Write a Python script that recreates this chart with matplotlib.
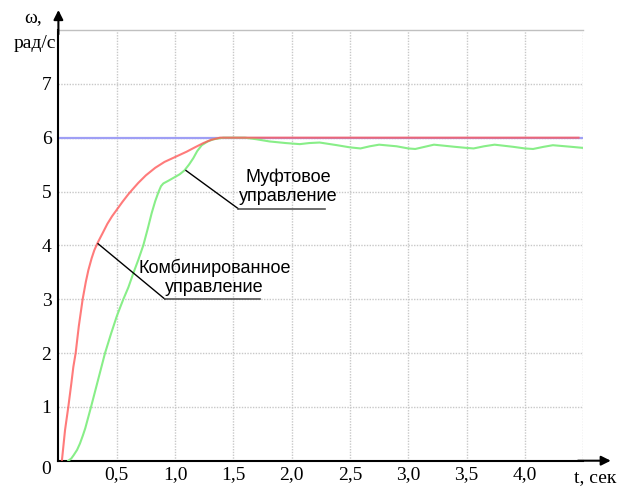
import matplotlib
matplotlib.use("Agg")
import matplotlib.pyplot as plt

# ---- data ----
red_t = [0.03, 0.057, 0.085, 0.11, 0.128, 0.148, 0.175, 0.208, 0.235, 0.257, 0.285, 0.308,
         0.337, 0.38, 0.42, 0.46, 0.5, 0.55, 0.6, 0.64, 0.685, 0.75, 0.83, 0.91, 1.0,
         1.1, 1.17, 1.243, 1.31, 1.386, 1.5, 4.46]
red_w = [0.0, 0.57, 1.0, 1.42, 1.74, 2.0, 2.5, 3.0, 3.32, 3.54, 3.76, 3.91,
         4.05, 4.23, 4.4, 4.54, 4.66, 4.81, 4.95, 5.05, 5.16, 5.30, 5.44, 5.55, 5.64,
         5.74, 5.82, 5.90, 5.96, 6.0, 6.0, 6.0]

green_t = [0.085, 0.11, 0.13, 0.16, 0.185, 0.21, 0.23, 0.255, 0.28, 0.31, 0.34, 0.37,
           0.40, 0.45, 0.5, 0.53, 0.557, 0.6, 0.642, 0.685, 0.728, 0.765, 0.80, 0.83,
           0.86, 0.88, 0.9, 0.943, 1.0, 1.04, 1.08, 1.12, 1.157, 1.19, 1.229, 1.28,
           1.33, 1.414, 1.6, 1.7, 1.81, 1.95, 2.07, 2.15, 2.24, 2.39, 2.5, 2.59, 2.67,
           2.75, 2.9, 3.0, 3.06, 3.14, 3.22, 3.4, 3.5, 3.56, 3.65, 3.74, 3.9, 4.0,
           4.07, 4.16, 4.24, 4.4, 4.5]
green_w = [0.0, 0.04, 0.1, 0.2, 0.32, 0.47, 0.6, 0.8, 1.0, 1.25, 1.5, 1.75,
           2.0, 2.35, 2.68, 2.85, 3.0, 3.22, 3.48, 3.73, 4.0, 4.3, 4.6, 4.82,
           5.0, 5.1, 5.15, 5.2, 5.27, 5.32, 5.39, 5.5, 5.62, 5.75, 5.86, 5.93,
           5.97, 6.0, 6.0, 5.97, 5.93, 5.9, 5.88, 5.9, 5.91, 5.86, 5.82, 5.80, 5.84,
           5.87, 5.84, 5.80, 5.79, 5.83, 5.87, 5.83, 5.81, 5.80, 5.84, 5.87, 5.83, 5.80,
           5.79, 5.83, 5.86, 5.83, 5.81]

ref_t = [0.0, 4.5]
ref_w = [6.0, 6.0]

x_ticks = [0.5, 1.0, 1.5, 2.0, 2.5, 3.0, 3.5, 4.0, 4.5]
x_labels = ["0,5", "1,0", "1,5", "2,0", "2,5", "3,0", "3,5", "4,0", ""]
y_ticks = [1, 2, 3, 4, 5, 6, 7]
y_labels = ["1", "2", "3", "4", "5", "6", "7"]

label_comb = "Комбинированное\nуправление"
label_muft = "Муфтовое\nуправление"

W, H = 618, 486
fig = plt.figure(figsize=(W / 100, H / 100), dpi=100)
ax = fig.add_axes([58.4 / W, 1 - 460.7 / H, (583.2 - 58.4) / W, (460.7 - 30) / H])
ax.set_xlim(0, 4.5)
ax.set_ylim(0, 8)

serif = "Liberation Serif"
sans = "Liberation Sans"

ax.plot(ref_t, ref_w, color="#9f9ff5", lw=1.6, zorder=2)
ax.plot(green_t, green_w, color="#88ee88", lw=1.5, zorder=3)
ax.plot(red_t, red_w, color="#ff5a5a", lw=1.5, alpha=0.8, zorder=4)

ax.set_xticks(x_ticks)
ax.set_xticklabels(x_labels, fontfamily=serif, fontsize=14)
ax.set_yticks(y_ticks)
ax.set_yticklabels(y_labels, fontfamily=serif, fontsize=14)
ax.tick_params(axis="both", length=0)
ax.tick_params(axis="x", pad=4)
ax.tick_params(axis="y", pad=5)
ax.grid(True, color="#c8c8c8", linestyle=(0, (1, 1)), lw=1.0, zorder=0)

ax.spines["top"].set_color("#c0c0c0")
ax.spines["top"].set_linewidth(1.0)
ax.spines["right"].set_visible(False)
ax.spines["left"].set_linewidth(1.5)
ax.spines["bottom"].set_linewidth(1.5)

# axis arrows
ax.annotate("", xy=(0, 1.0464), xytext=(0, 0.99), xycoords="axes fraction",
            arrowprops=dict(arrowstyle="-|>", color="black", lw=1.5, mutation_scale=14,
                            shrinkA=0, shrinkB=0), annotation_clip=False)
ax.annotate("", xy=(1.0525, 0), xytext=(0.99, 0), xycoords="axes fraction",
            arrowprops=dict(arrowstyle="-|>", color="black", lw=1.5, mutation_scale=14,
                            shrinkA=0, shrinkB=0), annotation_clip=False)

# origin and axis titles
ax.text(-0.106, -0.17, "0", fontfamily=serif, fontsize=14, ha="center", va="center",
        clip_on=False)
ax.text(4.60, -0.32, "t, сек", fontfamily=serif, fontsize=14, ha="center", va="center",
        clip_on=False)
fig.text(24 / W, 1 - 19 / H, "ω,", fontfamily=serif, fontsize=14, ha="left", va="center")
fig.text(35 / W, 1 - 44 / H, "рад/с", fontfamily=serif, fontsize=14, ha="center", va="center")

# annotations
ax.plot([0.34, 0.914], [4.03, 3.0], color="black", lw=1.0, zorder=5)
ax.plot([0.914, 1.729], [3.0, 3.0], color="#555555", lw=1.2, zorder=5)
ax.text(1.34, 3.41, label_comb, fontfamily=sans, fontsize=13, ha="center", va="center",
        linespacing=1.15, zorder=6)

ax.plot([1.094, 1.543], [5.39, 4.68], color="black", lw=1.0, zorder=5)
ax.plot([1.543, 2.286], [4.68, 4.68], color="#555555", lw=1.2, zorder=5)
ax.text(1.97, 5.085, label_muft, fontfamily=sans, fontsize=13, ha="center", va="center",
        linespacing=1.15, zorder=6)

fig.savefig("out.png", dpi=100)
